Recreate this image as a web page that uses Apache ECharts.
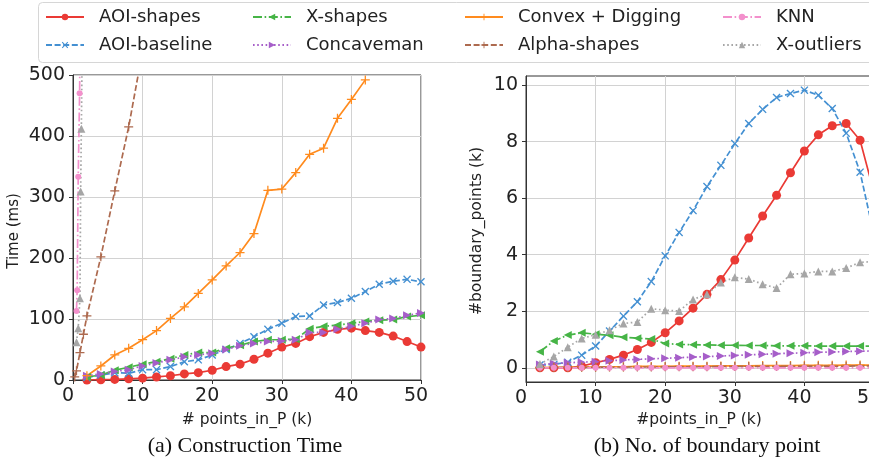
<!DOCTYPE html>
<html><head><meta charset="utf-8">
<script src="https://cdn.jsdelivr.net/npm/echarts@6/dist/echarts.min.js"></script>
<style>html,body{margin:0;padding:0;background:#fff}#c{width:869px;height:463px}</style>
</head><body><div id="c"></div>
<script>
// ---------- data ----------
const xK = [2,4,6,8,10,12,14,16,18,20,22,24,26,28,30,32,34,36,38,40,42,44,46,48,50];
const xTicks = [0,10,20,30,40,50];
const timeTicks = [0,100,200,300,400,500];
const boundaryTicks = [0,2,4,6,8,10];

// (a) construction time (ms)
const timeAOIShapes   = [0,0.5,1,2,3,5,7,10,12,16,22,26,34,44,54,60,71,78,83,85,81,78,72,63,54];
const timeAOIBaseline = [4,8,12,11,17,17,22,30,33,41,50,60,71,83,93,104,105,123,127,134,145,157,162,165,161];
const timeXShapes     = [5,8,16,21,26,30,35,41,45,45,52,57,63,66,66,67,84,88,90,93,96,98,99,104,106];
const timeConcaveman  = [7,10,14,17,23,28,33,38,41,44,50,56,60,63,64,66,78,78,83,88,93,99,101,106,110];
const timeConvex      = [7,23,41,52,66,81,101,120,142,164,187,209,240,311,313,340,370,380,429,460,492];
const alphaX = [0.25,0.5,1,1.5,2,4,6,8,10];
const timeAlpha       = [5,15,45,75,105,202,310,415,540];
const knnX = [0.5,0.6,0.75,0.95,1.05];
const timeKNN         = [113,147,333,470,620];
const outX = [0.5,0.75,1.0,1.1,1.2,1.3];
const timeXOutliers   = [62,85,134,309,412,520];

// (b) number of boundary points (k)
const bAOIShapes   = [0,0,0,0.06,0.18,0.3,0.45,0.65,0.9,1.24,1.66,2.11,2.6,3.12,3.81,4.59,5.37,6.1,6.9,7.67,8.24,8.56,8.64,8.05,6.2];
const bAOIBaseline = [0.1,0.12,0.2,0.45,0.77,1.3,1.83,2.34,3.05,3.96,4.79,5.56,6.41,7.16,7.93,8.64,9.14,9.56,9.7,9.82,9.64,9.17,8.3,6.92,4.7];
const bXShapes     = [0.57,0.95,1.16,1.24,1.19,1.15,1.08,1.05,1.02,0.86,0.83,0.82,0.81,0.8,0.8,0.79,0.79,0.78,0.78,0.78,0.77,0.77,0.77,0.77,0.77];
const bConcaveman  = [0.12,0.15,0.18,0.2,0.22,0.25,0.28,0.3,0.32,0.34,0.36,0.38,0.4,0.42,0.44,0.46,0.48,0.5,0.52,0.53,0.55,0.56,0.58,0.59,0.6];
const bConvex      = [0.01,0.02,0.02,0.03,0.03,0.04,0.04,0.05,0.05,0.05,0.06,0.06,0.06,0.07,0.07,0.07,0.08,0.08,0.08,0.09,0.09,0.09,0.1,0.1,0.1];
const bAlpha       = [0.01,0.01,0.02,0.02,0.02,0.03,0.03,0.03,0.03,0.04,0.04,0.04,0.04,0.05,0.05,0.05,0.05,0.05,0.06,0.06,0.06,0.06,0.06,0.07,0.07];
const bKNN         = [0,0,0,0,0,0,0,0,0,0,0,0,0,0,0,0,0,0,0,0,0,0,0,0,0];
const bXOutliers   = [0.14,0.4,0.73,1.04,1.17,1.33,1.57,1.62,2.09,2.04,2.01,2.42,2.6,3.02,3.2,3.14,2.96,2.82,3.31,3.34,3.41,3.41,3.53,3.73,3.76];

// ---------- styles ----------
const X_PATH = 'path://M0,1.2L1.2,0L5,3.8L8.8,0L10,1.2L6.2,5L10,8.8L8.8,10L5,6.2L1.2,10L0,8.8L3.8,5Z';
const PLUS = 'path://M4.3,0H5.7V4.3H10V5.7H5.7V10H4.3V5.7H0V4.3H4.3Z';
const LEFT_TRI = 'path://M0,5L10,0L10,10Z';
const RIGHT_TRI = 'path://M10,5L0,0L0,10Z';
const DASH = [6,2.6], DASHDOT = [9,2.6,1.6,2.6], DOT = [1.6,2.6];
const sty = {
  'AOI-shapes':       {c:'#ea3a35', t:'solid', s:'circle', z:9},
  'AOI-baseline':     {c:'#4490d2', t:DASH, s:X_PATH, z:8},
  'X-shapes':         {c:'#46b446', t:DASHDOT, s:LEFT_TRI, z:8},
  'Concaveman':       {c:'#a65ec9', t:DOT, s:RIGHT_TRI, z:8},
  'Convex + Digging': {c:'#ff8b1e', t:'solid', s:PLUS, z:9},
  'Alpha-shapes':     {c:'#ad6a4f', t:DASH, s:PLUS, z:9},
  'KNN':              {c:'#f390cc', t:DASHDOT, s:'circle', z:6},
  'X-outliers':       {c:'#a6a6a6', t:DOT, s:'triangle', z:8}
};
const pairs = (xs, ys) => ys.map((y, i) => [xs[i], y]);
function mk(name, data, gi) {
  const s = sty[name];
  return {
    name, type:'line', xAxisIndex:gi, yAxisIndex:gi, data,
    symbol:s.s, symbolSize:s.z, symbolKeepAspect:true, showSymbol:true,
    lineStyle:{color:s.c, width:1.7, type:s.t},
    itemStyle:{color:s.c},
    clip:true, silent:true
  };
}
const order = ['AOI-shapes','AOI-baseline','X-shapes','Concaveman','Convex + Digging','Alpha-shapes','KNN','X-outliers'];
const leftData = {
  'AOI-shapes': pairs(xK, timeAOIShapes),
  'AOI-baseline': pairs(xK, timeAOIBaseline),
  'X-shapes': pairs(xK, timeXShapes),
  'Concaveman': pairs(xK, timeConcaveman),
  'Convex + Digging': pairs(xK, timeConvex),
  'Alpha-shapes': pairs(alphaX, timeAlpha),
  'KNN': pairs(knnX, timeKNN),
  'X-outliers': pairs(outX, timeXOutliers)
};
const rightData = {
  'AOI-shapes': pairs(xK, bAOIShapes),
  'AOI-baseline': pairs(xK, bAOIBaseline),
  'X-shapes': pairs(xK, bXShapes),
  'Concaveman': pairs(xK, bConcaveman),
  'Convex + Digging': pairs(xK, bConvex),
  'Alpha-shapes': pairs(xK, bAlpha),
  'KNN': pairs(xK, bKNN),
  'X-outliers': pairs(xK, bXOutliers)
};
const series = [];
order.forEach(n => series.push(mk(n, leftData[n], 0)));
order.forEach(n => series.push(mk(n, rightData[n], 1)));

const FONT = 'DejaVu Sans';
const axisLineC = '#333';
const gridC = '#d2d2d2';
const xLab = {
  margin:7,
  formatter: v => '{t|' + v + '}',
  rich:{t:{fontSize:19, fontFamily:FONT, color:'#222', padding:[0,10,0,0]}}
};
function xAxisCfg(gi) {
  return {
    type:'value', gridIndex:gi, min:0, max:50, interval:10,
    axisLine:{show:true, onZero:false, lineStyle:{color:axisLineC, width:1}},
    axisTick:{show:true, length:4, lineStyle:{color:axisLineC}},
    axisLabel:xLab,
    splitLine:{show:true, lineStyle:{color:gridC, width:1}}
  };
}
const cols = [['AOI-shapes','AOI-baseline'],['X-shapes','Concaveman'],['Convex + Digging','Alpha-shapes'],['KNN','X-outliers']];
const colLeft = [45, 252, 464, 722];
const legends = cols.map((c, i) => ({
  orient:'vertical', left:colLeft[i], top:8, padding:0,
  itemWidth:38, itemHeight:8, itemGap:10, selectedMode:false,
  textStyle:{fontSize:18, fontFamily:FONT, color:'#222', padding:[0,0,0,10]},
  data:c
}));

const option = {
  animation:false,
  backgroundColor:'#fff',
  legend:legends,
  grid:[
    {left:73, top:75, width:348, height:305, show:true, borderColor:axisLineC, borderWidth:1, containLabel:false, outerBoundsMode:'none'},
    {left:526, top:76, width:348, height:306, show:true, borderColor:axisLineC, borderWidth:1, containLabel:false, outerBoundsMode:'none'}
  ],
  xAxis:[xAxisCfg(0), xAxisCfg(1)],
  yAxis:[
    {type:'value', gridIndex:0, min:0, max:500, interval:100,
     axisLine:{show:true, lineStyle:{color:axisLineC}},
     axisTick:{show:true, length:4, lineStyle:{color:axisLineC}},
     axisLabel:{margin:8, fontSize:19, fontFamily:FONT, color:'#222'},
     splitLine:{show:true, lineStyle:{color:gridC, width:1}}},
    {type:'value', gridIndex:1, min:-0.5, max:10.32,
     axisLine:{show:true, onZero:false, lineStyle:{color:axisLineC}},
     axisTick:{show:true, length:4, lineStyle:{color:axisLineC}, customValues:boundaryTicks},
     axisLabel:{margin:8, fontSize:19, fontFamily:FONT, color:'#222', customValues:boundaryTicks},
     splitLine:{show:true, lineStyle:{color:gridC, width:1}}}
  ],
  graphic:[
    {type:'rect', z:-1, shape:{x:38.5, y:2.5, width:860, height:60, r:4}, style:{fill:'#fff', stroke:'#d6d6d6', lineWidth:1}},
    {type:'text', x:14, y:231, rotation:Math.PI/2, style:{text:'Time (ms)', fontSize:15, fontFamily:FONT, fill:'#222', align:'center', verticalAlign:'middle'}},
    {type:'text', x:477, y:231, rotation:Math.PI/2, style:{text:'#boundary_points (k)', fontSize:15.5, fontFamily:FONT, fill:'#222', align:'center', verticalAlign:'middle'}},
    {type:'text', x:247, y:420, style:{text:'# points_in_P (k)', fontSize:15.5, fontFamily:FONT, fill:'#222', align:'center', verticalAlign:'middle'}},
    {type:'text', x:699, y:420, style:{text:'#points_in_P (k)', fontSize:15.5, fontFamily:FONT, fill:'#222', align:'center', verticalAlign:'middle'}},
    {type:'text', x:245, y:446, style:{text:'(a) Construction Time', fontSize:22, fontFamily:'Liberation Serif', fill:'#111', align:'center', verticalAlign:'middle'}},
    {type:'text', x:707, y:446, style:{text:'(b) No. of boundary point', fontSize:22, fontFamily:'Liberation Serif', fill:'#111', align:'center', verticalAlign:'middle'}}
  ],
  series
};
const chart = echarts.init(document.getElementById('c'), null, {renderer:'canvas'});
chart.setOption(option);
</script>
</body></html>
